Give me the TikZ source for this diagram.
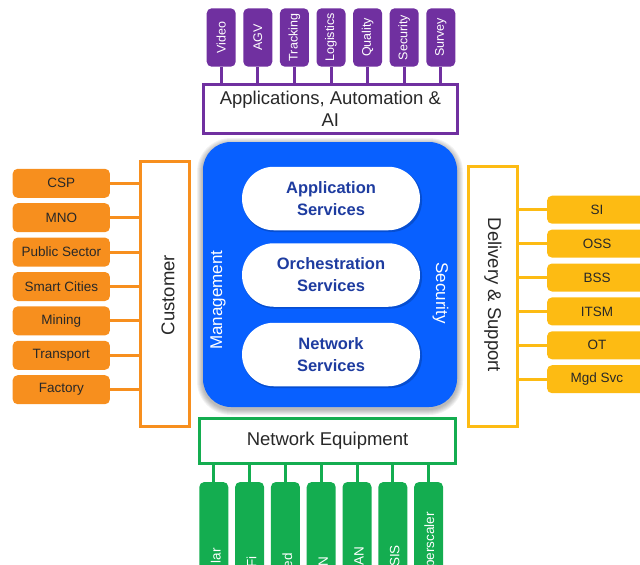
\documentclass[tikz,border=0pt]{standalone}
\usepackage{fontspec}
\setmainfont{Liberation Sans}
\usepackage{graphicx}
\usetikzlibrary{shapes.misc}
\definecolor{cPurple}{RGB}{112,48,160}
\definecolor{cOrange}{RGB}{247,143,30}
\definecolor{cYellow}{RGB}{253,187,19}
\definecolor{cGreen}{RGB}{20,173,80}
\definecolor{cBlue}{RGB}{8,96,255}
\definecolor{cNavy}{RGB}{30,60,160}
\definecolor{cText}{RGB}{40,40,40}
\begin{document}
\begin{tikzpicture}[x=1pt,y=-1pt,
  tabbase/.style={rounded corners=5pt, inner sep=0pt, font=\fontsize{13.5}{15}\selectfont},
  tabp/.style={tabbase, fill=cPurple, text=white, minimum width=29pt, minimum height=58.4pt, font=\fontsize{12.5}{14}\selectfont},
  tabo/.style={tabbase, fill=cOrange, text=cText, minimum width=97.3pt, minimum height=29pt},
  taby/.style={tabbase, fill=cYellow, text=cText, minimum width=100pt, minimum height=28pt},
  tabg/.style={tabbase, fill=cGreen, minimum width=29pt, minimum height=96pt},
  gtxt/.style={rotate=90, anchor=east, inner sep=0pt, text=white, font=\fontsize{13.5}{15}\selectfont},
  bigbox/.style={line width=3pt, fill=white, inner sep=0pt, text=cText, align=center, font=\fontsize{18.5}{22}\selectfont},
  conn/.style={line width=3pt},
  pill/.style={rounded rectangle, fill=white, minimum width=178pt, minimum height=63.5pt, inner sep=0pt, align=center, text=cNavy, font=\bfseries\fontsize{16.5}{22}\selectfont},
  sidetxt/.style={inner sep=0pt, text=white, font=\fontsize{17}{19}\selectfont}
]
\useasboundingbox (0,0) rectangle (640,565);

% ---------- central blue block ----------
\foreach \k in {1,...,6} {
  \fill[black, opacity=0.05, rounded corners={28+\k}] ({203-\k},{144-\k}) rectangle ({457+\k},{409+\k});
}
\node[fill=cBlue, rounded corners=28pt, minimum width=254pt, minimum height=265pt, inner sep=0pt] (core) at (330,274.5) {};
\foreach \yy in {198.5,275,354.5} {
  \fill[black, opacity=0.18, rounded corners=31] (243,{\yy-30}) rectangle (422,{\yy+33.5});
}
\node[pill] (appsvc) at (331,198.5) {Application\\Services};
\node[pill] (orch) at (331,275) {Orchestration\\Services};
\node[pill] (netsvc) at (331,354.5) {Network\\Services};
\node[sidetxt, rotate=90] (mgmt) at (218,300) {Management};
\node[sidetxt, rotate=-90] (secu) at (440.5,293) {Security};

% ---------- top: applications ----------
\node[bigbox, draw=cPurple, minimum width=254.3pt, minimum height=49pt] (apps) at (330.35,109) {Applications, Automation \&\\AI};
\foreach \t [count=\i from 0] in {Video,AGV,Tracking,Logistics,Quality,Security,Survey} {
  \node[tabp] (top\i) at ({221.2+36.6*\i},37.5) {\rotatebox{90}{\t}};
  \draw[conn, cPurple] (top\i.south) -- (top\i.south |- apps.north);
}

% ---------- left: customer ----------
\node[draw=cOrange, line width=3pt, fill=white, minimum width=49pt, minimum height=265pt, inner sep=0pt] (cust) at (165,294) {};
\node[inner sep=0pt, text=cText, rotate=90, font=\fontsize{18.5}{20}\selectfont] (custtxt) at (168,295) {Customer};
\foreach \t [count=\i from 0] in {CSP,MNO,Public Sector,Smart Cities,Mining,Transport,Factory} {
  \node[tabo] (L\i) at (61.3,{183.3+34.4*\i}) {\t};
  \draw[conn, cOrange] (L\i.east) -- (L\i.east -| cust.west);
}

% ---------- right: delivery & support ----------
\node[draw=cYellow, line width=3pt, fill=white, minimum width=49pt, minimum height=260pt, inner sep=0pt] (deliv) at (493,296.5) {};
\node[inner sep=0pt, text=cText, rotate=-90, font=\fontsize{18.5}{20}\selectfont] (delivtxt) at (493,295) {Delivery \& Support};
\foreach \t [count=\i from 0] in {SI,OSS,BSS,ITSM,OT,Mgd Svc} {
  \node[taby] (R\i) at (597,{209.7+33.9*\i}) {\t};
  \draw[conn, cYellow] (R\i.west) -- (R\i.west -| deliv.east);
}

% ---------- bottom: network equipment ----------
\node[bigbox, draw=cGreen, minimum width=255.5pt, minimum height=45pt] (neteq) at (327.5,441) {Network Equipment};
\foreach \t/\yt [count=\i from 0] in {lar/548,Fi/556,ed/553,N/557,AN/547,SIS/545,perscaler/512} {
  \node[tabg] (B\i) at ({213.8+35.8*\i},530) {};
  \draw[conn, cGreen] (B\i.north) -- (B\i.north |- neteq.south);
  \node[gtxt] (BT\i) at ({215.8+35.8*\i},\yt) {\t};
}
\end{tikzpicture}
\end{document}
